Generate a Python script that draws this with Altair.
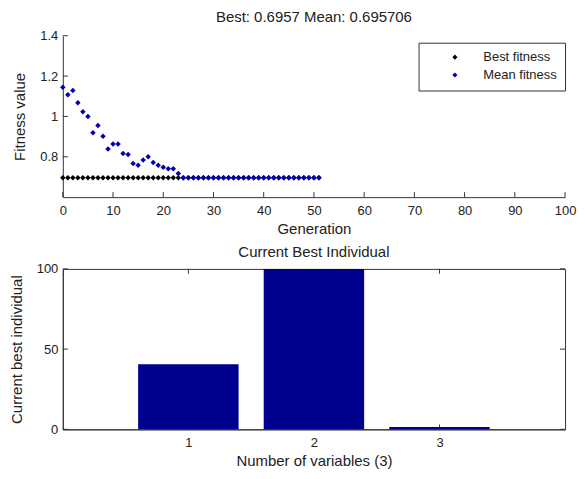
import altair as alt
import pandas as pd

# ---------------- data ----------------
generations = list(range(52))
best_fitness = [
    0.6957, 0.6957, 0.6957, 0.6957, 0.6957, 0.6957, 0.6957, 0.6957, 0.6957, 0.6957,
    0.6957, 0.6957, 0.6957, 0.6957, 0.6957, 0.6957, 0.6957, 0.6957, 0.6957, 0.6957,
    0.6957, 0.6957, 0.6957, 0.6957, 0.6957, 0.6957, 0.6957, 0.6957, 0.6957, 0.6957,
    0.6957, 0.6957, 0.6957, 0.6957, 0.6957, 0.6957, 0.6957, 0.6957, 0.6957, 0.6957,
    0.6957, 0.6957, 0.6957, 0.6957, 0.6957, 0.6957, 0.6957, 0.6957, 0.6957, 0.6957,
    0.6957, 0.6957,
]
mean_fitness = [
    1.145, 1.107, 1.128, 1.068, 1.023, 1.000, 0.919, 0.955, 0.902, 0.839,
    0.863, 0.863, 0.816, 0.811, 0.767, 0.758, 0.784, 0.800, 0.772, 0.758,
    0.748, 0.741, 0.741, 0.717, 0.6962, 0.6960, 0.6959, 0.6958, 0.6958, 0.6958,
    0.6958, 0.6958, 0.6957, 0.6957, 0.6957, 0.6957, 0.6957, 0.6957, 0.6957, 0.6957,
    0.6957, 0.6957, 0.6957, 0.6957, 0.6957, 0.6957, 0.6957, 0.6957, 0.6957, 0.6957,
    0.6957, 0.6957,
]
series_names = ["Best fitness", "Mean fitness"]
gen_ticks = [0, 10, 20, 30, 40, 50, 60, 70, 80, 90, 100]
fit_ticks = [0.8, 1.0, 1.2, 1.4]

variables = [1, 2, 3]
best_individual = [40.6, 100.0, 1.4]
var_ticks = [1, 2, 3]
val_ticks = [0, 50, 100]

top_title = "Best: 0.6957 Mean: 0.695706"
bottom_title = "Current Best Individual"

# ---------------- styling ----------------
FONT = "Liberation Sans"
AX = "#333333"
TXT = "#222222"
PLOT_W = 504

df_fit = pd.DataFrame({
    "Generation": generations + generations,
    "Fitness": best_fitness + mean_fitness,
    "Series": [series_names[0]] * len(generations) + [series_names[1]] * len(generations),
})

x_scale = alt.Scale(domain=[0, 100], nice=False, zero=False)
y_scale = alt.Scale(domain=[0.6, 1.4], nice=False, zero=False)

points = alt.Chart(df_fit).mark_point(
    shape="diamond", filled=True, size=30, opacity=1
).encode(
    x=alt.X("Generation:Q", scale=x_scale, title="Generation",
            axis=alt.Axis(values=gen_ticks, format="d", labelFlush=False)),
    y=alt.Y("Fitness:Q", scale=y_scale, title="Fitness value",
            axis=alt.Axis(values=fit_ticks, format="~g", labelFlush=False)),
    color=alt.Color(
        "Series:N",
        scale=alt.Scale(domain=series_names, range=["#000000", "#0000b0"]),
        legend=alt.Legend(
            title=None, orient="none", legendX=357, legendY=7,
            strokeColor=AX, fillColor="white", padding=8,
            symbolType="diamond", symbolSize=26, symbolOffset=22,
            labelOffset=22, labelFontSize=13, labelColor=TXT,
            labelFont=FONT, rowPadding=4,
        ),
    ),
)

df_gt = pd.DataFrame({"Generation": gen_ticks})
df_ft = pd.DataFrame({"Fitness": fit_ticks})
xt_top = alt.Chart(df_gt).mark_rule(color=AX, strokeWidth=1).encode(
    x=alt.X("Generation:Q", scale=x_scale, title="Generation"),
    y=alt.datum(0.6), y2=alt.datum(0.625),
)
yt_top = alt.Chart(df_ft).mark_rule(color=AX, strokeWidth=1).encode(
    y=alt.Y("Fitness:Q", scale=y_scale, title="Fitness value"),
    x=alt.datum(0), x2=alt.datum(1),
)

top = alt.layer(xt_top, yt_top, points).properties(
    width=PLOT_W, height=162,
    title=alt.TitleParams(top_title, offset=5),
    view=alt.ViewBackground(stroke="transparent"),
)

# ---------------- bottom chart ----------------
df_bar = pd.DataFrame({"Variable": variables, "Value": best_individual})
bx_scale = alt.Scale(domain=[0, 4], nice=False, zero=False)
by_scale = alt.Scale(domain=[0, 100], nice=False)

bars = alt.Chart(df_bar).mark_bar(color="#00008f").transform_calculate(
    x0="datum.Variable - 0.4", x1="datum.Variable + 0.4"
).encode(
    x=alt.X("x0:Q", scale=bx_scale, title="Number of variables (3)",
            axis=alt.Axis(values=var_ticks, format="d", labelFlush=False)),
    x2="x1:Q",
    y=alt.Y("Value:Q", scale=by_scale, title="Current best individual",
            axis=alt.Axis(values=val_ticks, format="d", labelFlush=False)),
    y2=alt.datum(0),
)

df_vt = pd.DataFrame({"x0": var_ticks})
df_yt = pd.DataFrame({"Value": val_ticks})
bt_bottom = alt.Chart(df_vt).mark_rule(color=AX).encode(
    x=alt.X("x0:Q", scale=bx_scale, title="Number of variables (3)"),
    y=alt.datum(0), y2=alt.datum(3),
)
bt_top = alt.Chart(df_vt).mark_rule(color=AX).encode(
    x=alt.X("x0:Q", scale=bx_scale, title="Number of variables (3)"),
    y=alt.datum(97), y2=alt.datum(100),
)
bt_left = alt.Chart(df_yt).mark_rule(color=AX).encode(
    y=alt.Y("Value:Q", scale=by_scale, title="Current best individual"),
    x=alt.datum(0), x2=alt.datum(0.04),
)
bt_right = alt.Chart(df_yt).mark_rule(color=AX).encode(
    y=alt.Y("Value:Q", scale=by_scale, title="Current best individual"),
    x=alt.datum(3.96), x2=alt.datum(4),
)

bottom = alt.layer(bt_bottom, bt_top, bt_left, bt_right, bars).properties(
    width=PLOT_W, height=161,
    title=alt.TitleParams(bottom_title, offset=3),
    view=alt.ViewBackground(stroke=AX, strokeWidth=1),
)

chart = alt.vconcat(top, bottom, spacing=7).properties(
    padding={"left": 0, "top": 0, "right": 0, "bottom": 0},
).configure(
    font=FONT,
).configure_view(
    stroke="transparent",
).configure_axis(
    grid=False, tickSize=0, domainColor=AX, domainWidth=1,
    labelFont=FONT, labelFontSize=13, labelColor=TXT, labelPadding=5,
    titleFont=FONT, titleFontSize=15, titleFontWeight="normal", titleColor=TXT,
    titlePadding=6,
).configure_axisX(
    labelPadding=7, titlePadding=4,
).configure_axisY(
    titlePadding=12,
).configure_title(
    font=FONT, fontSize=15, fontWeight="normal", color=TXT, anchor="middle",
)

chart.save("out.html", embed_options={"renderer": "svg", "actions": False})
